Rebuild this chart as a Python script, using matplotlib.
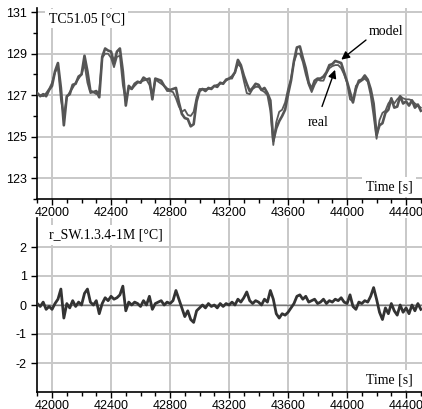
import numpy as np
import matplotlib
matplotlib.use('Agg')
import matplotlib.pyplot as plt
from matplotlib.ticker import MultipleLocator

# plain hyphen for negative tick labels, as in the original
plt.rcParams['axes.unicode_minus'] = False

# sample times [s], every 20 s
T_START = 41900
T_STEP = 20

# model temperature TC51.05 [degC]
model_temp = [
    127.05, 127.0, 126.95, 127.1, 127.3, 127.6, 128.1, 128.35, 126.8, 126.0,
    126.9, 127.15, 127.35, 127.6, 127.8, 128.0, 128.5, 127.6, 127.1, 127.15,
    127.05, 127.2, 128.8, 129.0, 129.0, 128.8, 128.35, 128.85, 128.9, 127.5,
    126.7, 127.35, 127.3, 127.45, 127.6, 127.65, 127.7, 127.75, 127.5, 126.95,
    127.75, 127.65, 127.55, 127.45, 127.2, 127.2, 127.15, 126.85, 126.45, 126.2,
    126.3, 126.05, 126.0, 126.2, 126.9, 127.3, 127.3, 127.3, 127.3, 127.35,
    127.45, 127.5, 127.55, 127.6, 127.7, 127.8, 127.8, 128.1, 128.5, 128.35,
    127.7, 127.1, 127.05, 127.3, 127.4, 127.4, 127.25, 127.15, 127.0, 126.25,
    124.6, 125.7, 126.2, 126.3, 126.65, 127.3, 127.8, 128.6, 129.0, 129.0,
    128.6, 128.0, 127.5, 127.15, 127.5, 127.75, 127.7, 127.7, 128.05, 128.3,
    128.4, 128.45, 128.45, 128.3, 128.0, 127.6, 126.8, 126.7, 127.45, 127.6,
    127.7, 127.8, 127.65, 127.0, 126.0, 124.9, 125.8, 126.15, 126.25, 126.6,
    126.8, 126.6, 126.8, 126.95, 126.85, 126.8, 126.8, 126.75, 126.6, 126.5,
    126.4,
]

# residual r_SW.1.3.4-1M [degC]
residual = [
    0.05, -0.05, 0.1, -0.15, -0.05, -0.15, 0.05, 0.2, 0.55, -0.45,
    0.05, -0.1, 0.15, -0.05, 0.1, 0.0, 0.4, 0.55, 0.1, 0.0,
    0.15, -0.3, 0.05, 0.25, 0.15, 0.3, 0.2, 0.25, 0.35, 0.65,
    -0.2, 0.1, 0.0, 0.1, 0.05, -0.05, 0.15, 0.0, 0.3, -0.15,
    0.05, 0.1, 0.15, 0.0, 0.1, 0.05, 0.15, 0.5, 0.2, -0.1,
    -0.4, -0.2, -0.5, -0.6, -0.2, -0.1, 0.0, -0.1, 0.05, -0.05,
    0.0, -0.1, 0.05, -0.05, 0.05, 0.0, 0.1, 0.0, 0.2, 0.1,
    0.25, 0.45, 0.15, 0.05, 0.15, 0.1, 0.0, 0.2, 0.1, 0.5,
    0.2, -0.3, -0.45, -0.3, -0.35, -0.25, -0.1, 0.05, 0.3, 0.35,
    0.2, 0.3, 0.1, 0.15, 0.2, 0.05, 0.1, 0.2, 0.05, 0.15,
    0.1, 0.2, 0.15, 0.25, 0.1, 0.05, 0.35, -0.05, -0.15, 0.1,
    0.05, 0.15, 0.1, 0.3, 0.6, 0.2, -0.25, -0.5, -0.1, -0.3,
    0.05, -0.2, -0.35, 0.0, -0.25, -0.1, -0.3, 0.0, -0.2, 0.05,
    -0.15,
]

x_ticks = [42000, 42400, 42800, 43200, 43600, 44000, 44400]
top_yticks = [123, 125, 127, 129, 131]
bot_yticks = [-2, -1, 0, 1, 2]

GRID = '#c8c8c8'
SERIF = 'Liberation Serif'
SANS = 'Liberation Sans'


def style_axes(ax):
    '''common look of both panels'''
    for side in ['top', 'right']:
        ax.spines[side].set_visible(False)
    for side in ['left', 'bottom']:
        ax.spines[side].set_linewidth(1.2)
    ax.set_xlim(41898, 44508)
    ax.set_xticks(x_ticks)
    ax.xaxis.set_minor_locator(MultipleLocator(100))
    ax.grid(True, which='major', color=GRID, lw=1.4)
    ax.set_axisbelow(True)
    ax.tick_params(which='major', length=4, width=1, labelsize=9)
    ax.tick_params(axis='x', which='major', pad=1.5)
    ax.tick_params(which='minor', length=3, width=1)
    for lab in ax.get_xticklabels() + ax.get_yticklabels():
        lab.set_family(SANS)


def label_box(ax, x, y, text, ha):
    ax.text(x, y, text, transform=ax.transAxes, ha=ha, va='center',
            family=SERIF, fontsize=10, zorder=5,
            bbox=dict(facecolor='white', edgecolor='none', pad=2.5))


def main():
    t = T_START + T_STEP * np.arange(len(model_temp))
    model = np.array(model_temp)
    res = np.array(residual)
    real = model + res

    fig = plt.figure(figsize=(4.22, 4.09), dpi=100)
    ax1 = fig.add_axes([37 / 422, 210 / 409, 385 / 422, 191 / 409])
    ax2 = fig.add_axes([37 / 422, 17 / 409, 385 / 422, 174 / 409])

    # top panel: real vs model
    ax1.plot(t, model, color='#5a5a5a', lw=1.3, zorder=3)
    ax1.plot(t, real, color='#555555', lw=1.9, zorder=3)
    ax1.set_ylim(122.0, 131.2)
    ax1.set_yticks(top_yticks)
    ax1.yaxis.set_minor_locator(MultipleLocator(1))
    style_axes(ax1)
    label_box(ax1, 0.03, 0.945, 'TC51.05 [°C]', 'left')
    label_box(ax1, 0.975, 0.065, 'Time [s]', 'right')

    arrow = dict(arrowstyle='-|>', color='black', lw=1.0, mutation_scale=12)
    ax1.annotate('', xy=(43946, 128.63), xytext=(44143, 129.74),
                 arrowprops=arrow, zorder=6)
    ax1.annotate('', xy=(43925, 128.35), xytext=(43824, 126.33),
                 arrowprops=arrow, zorder=6)
    ax1.text(44265, 130.08, 'model', ha='center', va='center',
             family=SERIF, fontsize=10)
    ax1.text(43803, 125.7, 'real', ha='center', va='center',
             family=SERIF, fontsize=10)

    # bottom panel: residual
    ax2.axhline(0, color='#777777', lw=1.0, zorder=2)
    ax2.plot(t, res, color='#333333', lw=2.0, zorder=3)
    ax2.set_ylim(-3, 3)
    ax2.set_yticks(bot_yticks)
    style_axes(ax2)
    label_box(ax2, 0.03, 0.905, 'r_SW.1.3.4-1M [°C]', 'left')
    label_box(ax2, 0.975, 0.07, 'Time [s]', 'right')

    fig.savefig('out.png', dpi=100)


if __name__ == '__main__':
    main()
